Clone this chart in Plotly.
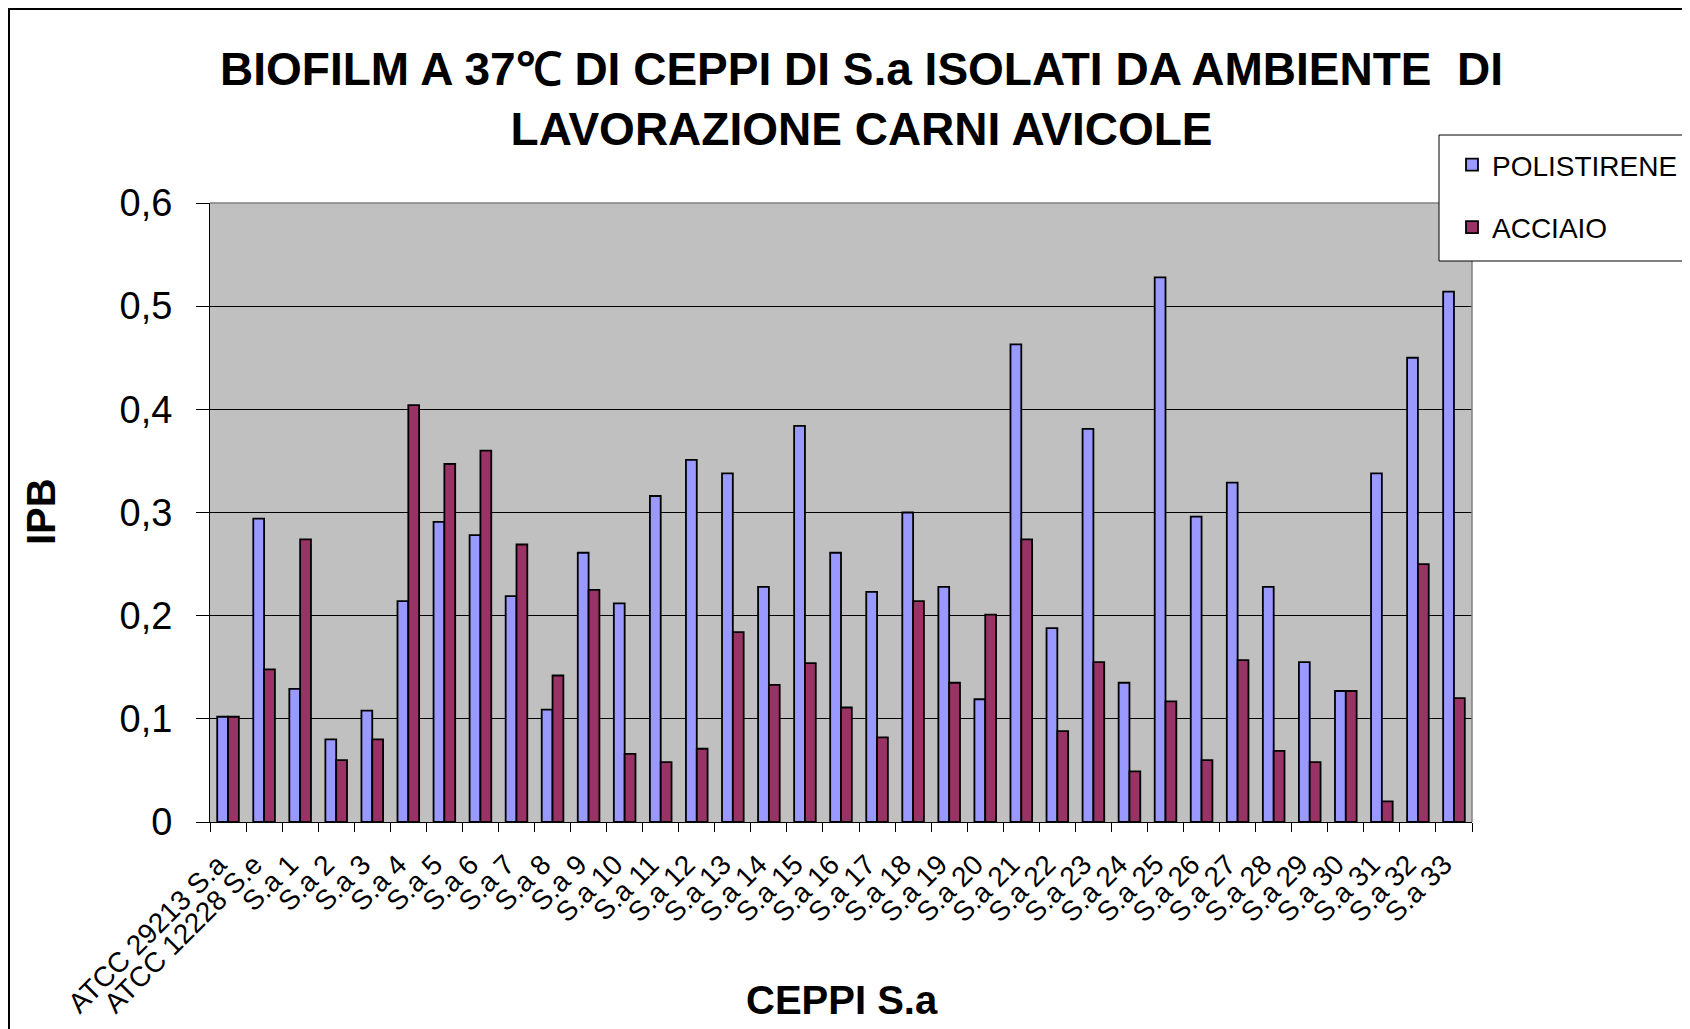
import plotly.graph_objects as go

# dati
ceppi = ["ATCC 29213 S.a", "ATCC 12228 S.e"] + [f"S.a {i}" for i in range(1, 34)]
polistirene = [0.102, 0.294, 0.129, 0.080, 0.108, 0.214, 0.291, 0.278, 0.219, 0.109,
               0.261, 0.212, 0.316, 0.351, 0.338, 0.228, 0.384, 0.261, 0.223, 0.300,
               0.228, 0.119, 0.463, 0.188, 0.381, 0.135, 0.528, 0.296, 0.329, 0.228,
               0.155, 0.127, 0.338, 0.450, 0.514]
acciaio = [0.102, 0.148, 0.274, 0.060, 0.080, 0.404, 0.347, 0.360, 0.269, 0.142,
           0.225, 0.066, 0.058, 0.071, 0.184, 0.133, 0.154, 0.111, 0.082, 0.214,
           0.135, 0.201, 0.274, 0.088, 0.155, 0.049, 0.117, 0.060, 0.157, 0.069,
           0.058, 0.127, 0.020, 0.250, 0.120]
y_ticks = [0, 0.1, 0.2, 0.3, 0.4, 0.5, 0.6]
y_labels = ["0", "0,1", "0,2", "0,3", "0,4", "0,5", "0,6"]

W, H = 1690, 1029
OFF = 8  # margine della pagina html
L, R, T, B = 210 - OFF, 1472 - OFF, 203 - OFF, 822 - OFF  # area del grafico in pixel


def px(x):
    return (x - OFF - L) / (R - L)


def py(y):
    return (B - (y - OFF)) / (B - T)


FONT = "Arial, 'Liberation Sans', sans-serif"

fig = go.Figure()
fig.add_trace(go.Bar(x=ceppi, y=polistirene, name="POLISTIRENE", legendgroup="a",
                     marker=dict(color="#9999FF", line=dict(color="black", width=1.8))))
fig.add_trace(go.Bar(x=ceppi, y=acciaio, name="ACCIAIO", legendgroup="b",
                     marker=dict(color="#993366", line=dict(color="black", width=1.8))))

fig.update_layout(
    width=W, height=H,
    margin=dict(l=L, r=W - R, t=T, b=H - B, autoexpand=False),
    paper_bgcolor="white",
    plot_bgcolor="#C0C0C0",
    barmode="group",
    bargap=0.4,
    bargroupgap=0,
    font=dict(family=FONT, color="black"),
    showlegend=True,
    legend=dict(x=px(1452), xanchor="left", y=py(140), yanchor="top",
                bgcolor="rgba(0,0,0,0)", borderwidth=0,
                font=dict(size=28, family=FONT, color="black"),
                traceorder="grouped", tracegroupgap=23),
)

fig.update_xaxes(
    showgrid=False, showline=True, linecolor="black", linewidth=1,
    ticks="outside", ticklen=9, tickcolor="black", tickson="boundaries",
    tickangle=-45, ticklabelstandoff=14, ticklabelshift=-10,
    tickfont=dict(size=28, family=FONT, color="black"),
)
fig.update_yaxes(
    range=[0, 0.6], tickvals=y_ticks, ticktext=y_labels,
    showgrid=True, gridcolor="black", gridwidth=1, zeroline=False,
    showline=True, linecolor="black", linewidth=1,
    ticks="outside", ticklen=13, tickcolor="black", ticklabelstandoff=16,
    tickfont=dict(size=38, family=FONT, color="black"),
)

# titoli
fig.add_annotation(
    text="BIOFILM A 37℃ DI CEPPI DI S.a ISOLATI DA AMBIENTE  DI<br>LAVORAZIONE CARNI AVICOLE",
    xref="paper", yref="paper", x=px(861), y=py(98.5), xanchor="center", yanchor="middle",
    showarrow=False, font=dict(size=46, family=FONT, color="black", weight="bold"),
)
fig.add_annotation(text="IPB", xref="paper", yref="paper", x=px(41), y=py(512),
                   xanchor="center", yanchor="middle", textangle=-90, showarrow=False,
                   font=dict(size=40, family=FONT, color="black", weight="bold"))
fig.add_annotation(text="CEPPI S.a", xref="paper", yref="paper", x=px(842), y=py(999.5),
                   xanchor="center", yanchor="middle", showarrow=False,
                   font=dict(size=40, family=FONT, color="black", weight="bold"))

# bordo grigio dell'area (alto e destra), cornice esterna, riquadro legenda
fig.add_shape(type="line", xref="paper", yref="paper", x0=0, x1=1, y0=1, y1=1,
              line=dict(color="#808080", width=1.5), layer="above")
fig.add_shape(type="line", xref="paper", yref="paper", x0=1, x1=1, y0=0, y1=1,
              line=dict(color="#808080", width=1.5), layer="above")
fig.add_shape(type="rect", xref="paper", yref="paper",
              x0=px(9), x1=px(1720), y0=py(1050), y1=py(9),
              line=dict(color="black", width=2), layer="above")
fig.add_shape(type="rect", xref="paper", yref="paper",
              x0=px(1439), x1=px(1720), y0=py(261), y1=py(135),
              fillcolor="white", line=dict(color="black", width=1), layer="above")

fig.write_html("out.html")
